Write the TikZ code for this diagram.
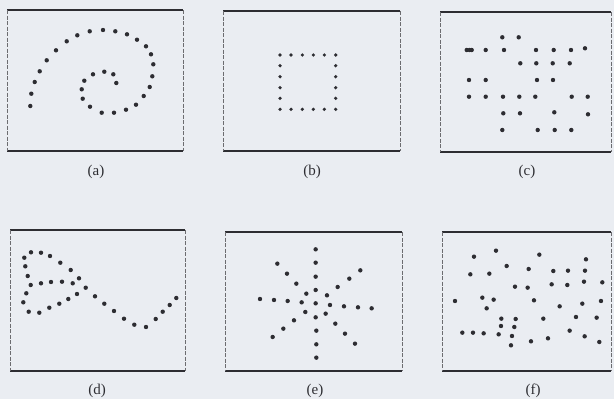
\documentclass[tikz,border=0pt]{standalone}
\usepackage{fontspec}
\setmainfont{Liberation Serif}
\definecolor{bgc}{RGB}{234,237,242}
\definecolor{inkc}{RGB}{45,45,50}
\begin{document}
\begin{tikzpicture}[x=1pt,y=-1pt,
  dotc/.style={fill=inkc},
  hline/.style={draw=inkc,line width=1.3pt},
  vline/.style={draw=inkc!70,line width=0.5pt,dash pattern=on 4pt off 1.5pt},
  lab/.style={font=\fontsize{15}{17}\selectfont,text=inkc}]
\fill[bgc] (0,0) rectangle (614,399);
\useasboundingbox (0,0) rectangle (614,399);
\newcommand{\mydotset}[1]{\foreach \p in {#1} {\fill[dotc] \p circle (2.2pt);}}
\newcommand{\mypanelbox}[4]{%
  \draw[hline] (#1,#2) -- (#3,#2);
  \draw[hline] (#1,#4) -- (#3,#4);
  \draw[vline] (#1,#2) -- (#1,#4);
  \draw[vline] (#3,#2) -- (#3,#4);}
% panels
\mypanelbox{7}{10}{183}{151}
\mypanelbox{223}{11}{400}{151}
\mypanelbox{440}{12}{611}{152}
\mypanelbox{10}{230}{185}{371}
\mypanelbox{225}{232}{402}{371}
\mypanelbox{442}{232}{611}{371}
% labels
\node[lab] (la) at (96,172) {(a)};
\node[lab] (lb) at (312,172) {(b)};
\node[lab] (lc) at (527,172) {(c)};
\node[lab] (ld) at (97,391) {(d)};
\node[lab] (le) at (315,391) {(e)};
\node[lab] (lf) at (533,391) {(f)};
% (a) spiral
\mydotset{(30.3,106),(31.3,93.7),(34.7,82),(39.7,71.3),(46.7,60.3),(56,50.3),(66.7,41.3),(77.3,35.3),(89.7,31.3),(103,30),(115.3,31.3),(127,34.3),(137,39.7),(146,46.3),(151,54.3),(153.3,64.3),(152.3,76.3),(149.7,87),(143.7,96),(136,104.7),(126,109.7),(114,112.7),(101.7,112.7),(90,106.7),(82.7,98.7),(81.7,89.3),(84.3,80.7),(93,74.3),(104.3,71.7),(113.3,74.3),(116.3,83)}
% (b) square
\foreach \x in {280,291,302.3,313.3,324.3,335.7} {\fill[dotc] (\x,55) circle (1.8pt); \fill[dotc] (\x,109.3) circle (1.8pt);}
\foreach \y in {65.7,76.7,87.7,98.3} {\fill[dotc] (280,\y) circle (1.8pt); \fill[dotc] (335.7,\y) circle (1.8pt);}
% (c) scattered grid
\mydotset{(502.3,37.3),(518.7,37.3),
(466.7,50),(469.5,50),(471.7,50),(485.7,50),(504,50),(536,50),(553.7,50),(571,50),(585,48.3),
(520.3,63.3),(536.3,63.3),(552.7,63.3),(569.7,63.3),
(469,80),(485.7,80),(537,80),(553,80),
(469,96.7),(485.7,96.7),(503,96.7),(519.3,96.7),(535.3,96.7),(571.7,96.7),(587.7,96.7),
(503.3,113.3),(520,113.3),(554.3,112.3),(588,114.3),
(502.3,130),(537.7,130),(554.7,130),(571.3,130)}
% (d) loop and wave
\mydotset{(24.3,257.7),(31,252.3),(41,252.7),(50,256),(60.3,262.7),(70.7,270),(79,278.3),(85.7,287.7),(95,296.3),(104.3,303.7),(114,311),(124,318.7),(134.3,324.7),(146,327),(155.7,319),(162.7,311.7),(169.7,305),(176.3,298),
(25.3,266.3),(27.7,276),(30.7,285),(41,283.3),(51,282),(62,281.7),(72.7,283.3),(26.3,293.3),(23.3,302.3),(28.7,311.7),(39.3,312.7),(49.3,307.7),(59.3,303.7),(68.3,299),(77,294)}
% (e) star
\begin{scope}[shift={(200,220)},x=0.3333pt,y=-0.3333pt]
\mydotset{(347,88),(347,128),(347,170),(347,210),(347,250),(347,292),(349,332),(349,373),(349,413),
(180,237),(222,240),(263,243),(305,247),(390,255),(432,259),(474,262),(515,265),
(232,131),(261,161),(289,191),(319,221),(377,281),(406,311),(435,341),(465,371),
(481,151),(448,176),(413,201),(381,226),(316,276),(282,301),(250,326),(218,351)}
\end{scope}
% (f) random
\begin{scope}[shift={(405,220)},x=0.3333pt,y=-0.3333pt]
\mydotset{(207,110),(273,92),(403,104),(543,118),
(305,138),(196,163),(253,161),(371,147),(445,153),(489,152),(540,152),
(330,200),(368,203),(440,193),(487,195),(537,185),(592,187),
(150,243),(232,233),(266,239),(245,265),(387,241),(464,259),(532,251),(588,243),
(289,296),(332,297),(415,296),(513,291),(575,293),
(288,318),(328,321),(494,332),
(172,338),(204,338),(236,340),(281,343),(321,348),(378,364),(429,355),(539,349),(583,366),
(318,376)}
\end{scope}
\end{tikzpicture}
\end{document}
